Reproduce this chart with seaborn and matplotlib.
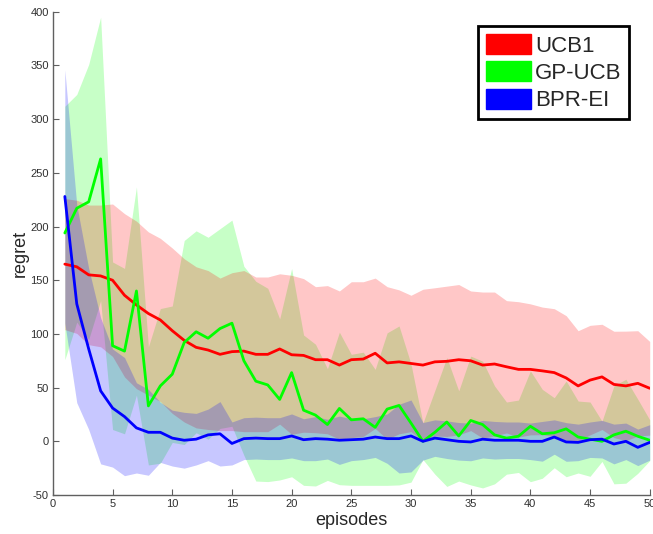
import numpy as np
import pandas as pd
import matplotlib
matplotlib.use("Agg")
import matplotlib.pyplot as plt
from matplotlib.patches import Patch
import seaborn as sns

episodes = list(range(1, 51))

ucb1_mean = [165, 162.5, 155, 154, 150, 136, 127, 119, 113, 103,
             94, 87.5, 85, 81, 83.5, 84, 81, 81, 86, 80.6,
             80, 76, 76, 71, 76, 76.6, 82, 73, 74, 72.5,
             71, 74, 74.5, 76, 75, 71, 72, 69.4, 67, 67,
             65.6, 64, 59, 51.6, 57, 60, 53, 51.6, 54, 49.4]
ucb1_std = [61, 62, 65, 66, 71, 76, 78, 76, 76, 77,
            76, 75, 74, 71, 73.5, 75, 72, 72, 70, 74,
            71.5, 68, 69, 69, 72.6, 72, 70, 71, 67, 63.5,
            70.6, 69, 70, 70, 65, 68, 67, 61.6, 63, 61,
            59.4, 59.5, 58, 51.4, 51, 49, 49.5, 51, 49, 43.6]

gpucb_mean = [194, 217, 223, 263, 89, 84, 140, 33, 51.6, 62.5,
              92, 102, 96, 105, 110, 75, 56, 52.5, 39, 64,
              29, 24.4, 15.6, 30.6, 20, 21, 13, 30, 33.4, 17,
              0, 8.4, 18, 5, 19.4, 15.6, 6, 3, 4.7, 14,
              7, 8, 11.6, 4, 2, 0, 6, 9.4, 4.7, 1]
gpucb_std = [118, 106, 128, 132, 78, 77, 97, 55, 72, 63.5,
             95, 94, 94, 93, 96, 88, 93, 90, 75, 97,
             70, 66, 52, 71, 61, 62, 54, 71, 74, 55,
             17, 39, 60, 42, 60, 59, 45.6, 33.6, 33.7, 51.6,
             41.4, 32.6, 44.6, 33.5, 34.6, 18.75, 45.6, 48.4, 34.5, 19]

bprei_mean = [228, 128, 86, 47, 31, 23, 12.5, 8.4, 8.4, 3,
              1, 2, 6, 7, -2, 2.5, 3, 2.5, 2.5, 5,
              1.5, 2.5, 2, 1, 1.5, 2, 4, 2.5, 2.5, 5,
              0, 3, 1.5, 0, -0.6, 2, 1, 1, 1, 0,
              0, 4, -0.6, -1, 1.5, 2, -2.5, 0, -5.6, -1]
bprei_std = [118, 92, 75, 68, 55, 55, 42, 40, 28, 26,
             26, 24, 24, 30, 20, 19.5, 19.5, 19.5, 19.5, 20.5,
             19.5, 20.5, 18.5, 22.5, 19.5, 19, 19, 23, 32, 33.5,
             17.5, 17, 17.5, 17.5, 17.5, 17.5, 17.5, 17, 17, 17,
             18.5, 16, 18, 17, 16.5, 17.5, 18.5, 17, 17, 16.5]

methods = ["UCB1", "GP-UCB", "BPR-EI"]
colors = {"UCB1": "#ff0000", "GP-UCB": "#00ff00", "BPR-EI": "#0000ff"}
x_ticks = list(range(0, 51, 5))
y_ticks = list(range(-50, 401, 50))

series = {
    "UCB1": (ucb1_mean, ucb1_std),
    "GP-UCB": (gpucb_mean, gpucb_std),
    "BPR-EI": (bprei_mean, bprei_std),
}

rows = []
for m in methods:
    mu, sd = series[m]
    for e, v, s in zip(episodes, mu, sd):
        rows.append({"episodes": e, "regret": v, "std": s, "method": m})
df = pd.DataFrame(rows)

sns.set_style("white")
plt.rcParams["font.family"] = ["Liberation Sans", "DejaVu Sans"]

fig = plt.figure(figsize=(6.53, 5.34), dpi=100)
ax = fig.add_axes([0.081, 0.073, 0.914, 0.905])

# shaded bands (green first, then red, then blue for the overlap colours)
for m in ["GP-UCB", "UCB1", "BPR-EI"]:
    d = df[df["method"] == m]
    ax.fill_between(d["episodes"], d["regret"] - d["std"], d["regret"] + d["std"],
                    color=colors[m], alpha=0.22, linewidth=0, zorder=1)

sns.lineplot(data=df, x="episodes", y="regret", hue="method", hue_order=methods,
             palette=colors, linewidth=2, legend=False, ax=ax, zorder=3)

ax.set_xlim(0, 50)
ax.set_ylim(-50, 400)
ax.set_xticks(x_ticks)
ax.set_yticks(y_ticks)
ax.set_xticklabels([str(t) for t in x_ticks])
ax.set_yticklabels([str(t) for t in y_ticks])

for side in ["top", "right"]:
    ax.spines[side].set_visible(False)
for side in ["left", "bottom"]:
    ax.spines[side].set_color("#606060")
    ax.spines[side].set_linewidth(1.0)

ax.tick_params(axis="both", direction="in", length=4, width=0.8, color="#606060",
               labelsize=8, labelcolor="#303030", pad=3)
ax.tick_params(axis="x", bottom=True, top=False)
ax.tick_params(axis="y", left=True, right=False)

ax.set_xlabel("episodes", fontsize=13, labelpad=2)
ax.set_ylabel("regret", fontsize=13, labelpad=1)

handles = [Patch(facecolor=colors[m], edgecolor=colors[m], label=m) for m in methods]
leg = ax.legend(handles=handles, loc="upper right", bbox_to_anchor=(0.966, 0.97),
                fontsize=16, handlelength=2.0, handleheight=1.0, handletextpad=0.2,
                labelspacing=0.22, borderpad=0.35, borderaxespad=0.0,
                fancybox=False, framealpha=1, edgecolor="black")
leg.get_frame().set_linewidth(2)

fig.savefig("out.png", dpi=100)
